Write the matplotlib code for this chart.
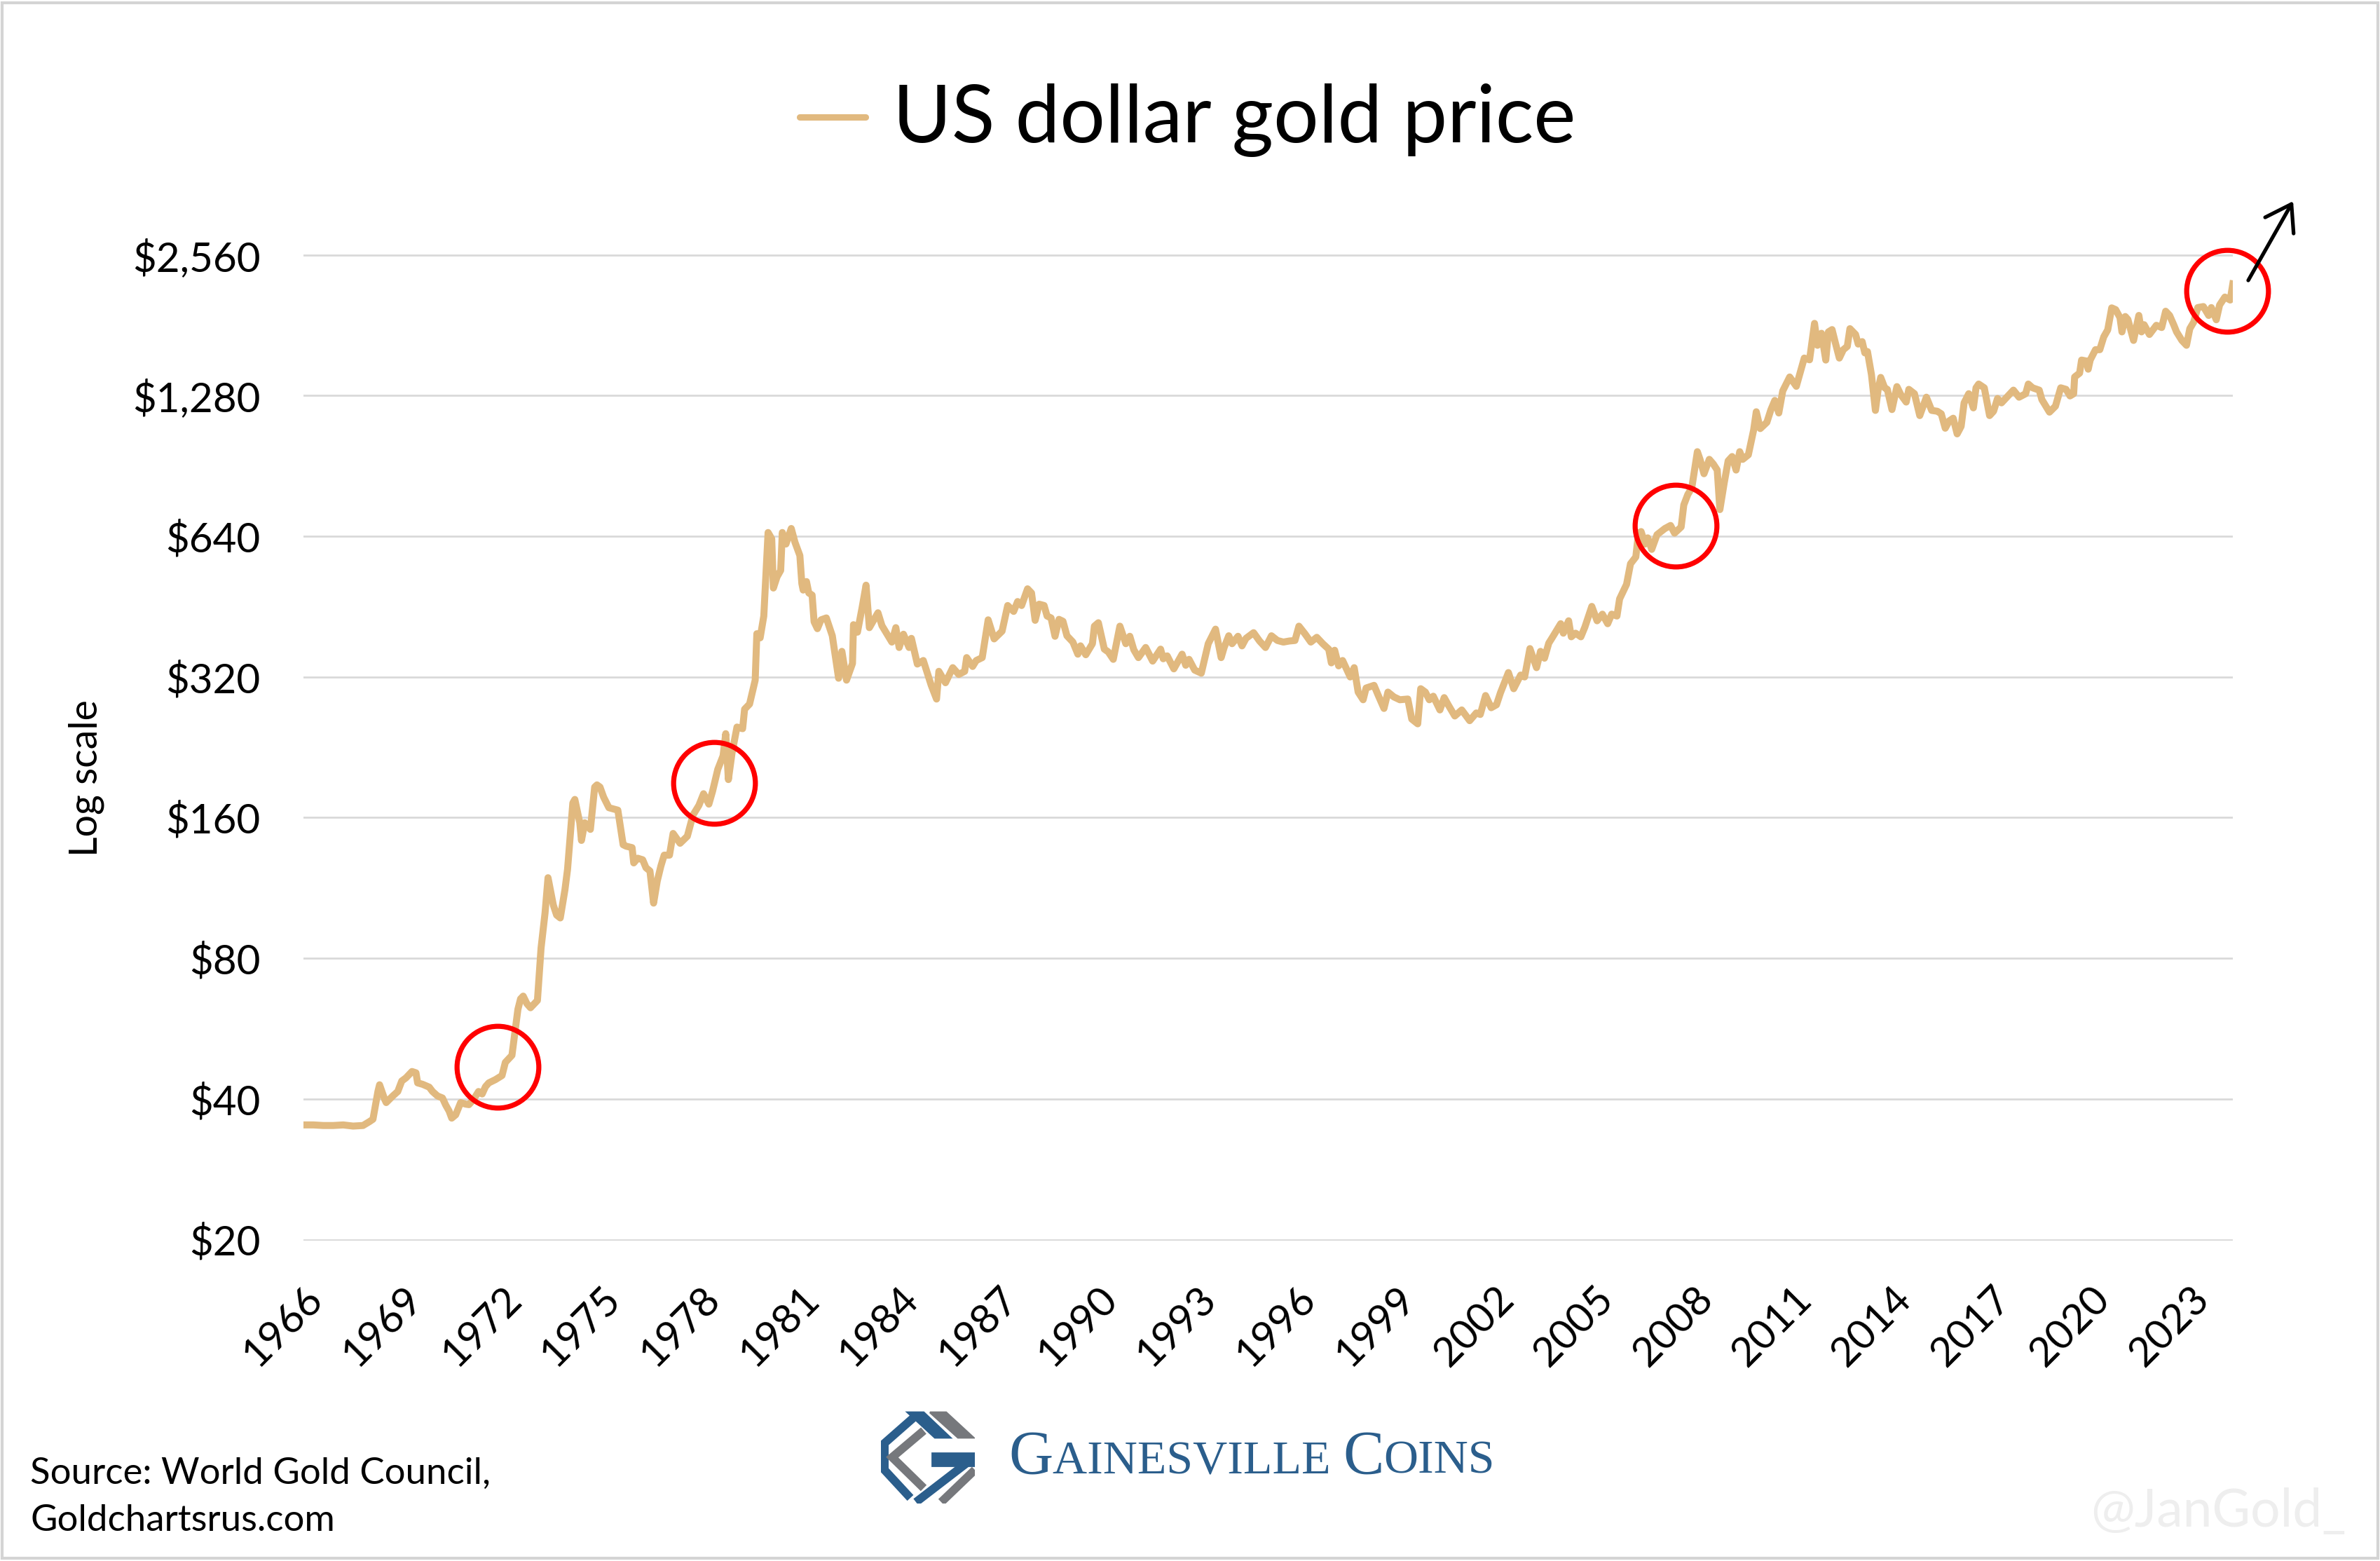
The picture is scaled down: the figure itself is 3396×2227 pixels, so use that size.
import matplotlib
matplotlib.use('Agg')
import matplotlib.pyplot as plt
from matplotlib.lines import Line2D
from matplotlib.patches import Rectangle, Polygon
from matplotlib.ticker import NullLocator

plt.rcParams['font.family'] = ['Lato', 'DejaVu Sans']

# gold price, USD per oz (decimal years)
years = [
    1966.0, 1966.3, 1966.6, 1966.9, 1967.2, 1967.5, 1967.8, 1968.0, 1968.1, 1968.25,
    1968.3, 1968.45, 1968.5, 1968.7, 1968.85, 1968.97, 1969.1, 1969.28, 1969.4, 1969.45,
    1969.6, 1969.8, 1969.9, 1970.05, 1970.2, 1970.3, 1970.4, 1970.48, 1970.6, 1970.75,
    1970.9, 1971.0, 1971.15, 1971.29, 1971.4, 1971.5, 1971.6, 1971.8, 1972.0, 1972.1,
    1972.3, 1972.48, 1972.56, 1972.64, 1972.75, 1972.86, 1973.07, 1973.18, 1973.3, 1973.39,
    1973.55, 1973.65, 1973.76, 1973.9, 1973.98, 1974.14, 1974.2, 1974.35, 1974.4, 1974.5,
    1974.67, 1974.8, 1974.87, 1974.96, 1975.07, 1975.23, 1975.5, 1975.66, 1975.75, 1975.93,
    1975.98, 1976.1, 1976.25, 1976.35, 1976.47, 1976.58, 1976.69, 1976.8, 1976.9, 1977.06,
    1977.17, 1977.38, 1977.6, 1977.77, 1977.95, 1978.09, 1978.25, 1978.36, 1978.52, 1978.68,
    1978.76, 1978.84, 1978.95, 1979.1, 1979.27, 1979.33, 1979.48, 1979.65, 1979.7, 1979.8,
    1979.91, 1980.04, 1980.15, 1980.2, 1980.31, 1980.42, 1980.47, 1980.58, 1980.74, 1980.85,
    1981.0, 1981.06, 1981.1, 1981.2, 1981.27, 1981.37, 1981.43, 1981.53, 1981.64, 1981.8,
    1981.98, 1982.17, 1982.27, 1982.41, 1982.59, 1982.62, 1982.74, 1982.88, 1983.0, 1983.1,
    1983.36, 1983.48, 1983.78, 1983.9, 1984.0, 1984.13, 1984.3, 1984.37, 1984.55, 1984.73,
    1984.97, 1985.13, 1985.2, 1985.4, 1985.62, 1985.8, 1985.98, 1986.04, 1986.22, 1986.33,
    1986.51, 1986.69, 1986.87, 1987.11, 1987.28, 1987.46, 1987.58, 1987.7, 1987.88, 1988.0,
    1988.11, 1988.23, 1988.38, 1988.47, 1988.59, 1988.71, 1988.83, 1988.95, 1989.07, 1989.25,
    1989.4, 1989.48, 1989.64, 1989.84, 1989.9, 1990.02, 1990.2, 1990.32, 1990.47, 1990.67,
    1990.85, 1990.97, 1991.09, 1991.23, 1991.45, 1991.66, 1991.9, 1991.98, 1992.1, 1992.3,
    1992.55, 1992.66, 1992.76, 1992.93, 1993.13, 1993.34, 1993.56, 1993.73, 1993.82, 1993.96,
    1994.06, 1994.24, 1994.36, 1994.48, 1994.71, 1994.89, 1995.07, 1995.25, 1995.43, 1995.61,
    1995.79, 1995.96, 1996.08, 1996.26, 1996.44, 1996.62, 1996.8, 1996.98, 1997.06, 1997.16,
    1997.28, 1997.4, 1997.63, 1997.75, 1997.87, 1998.02, 1998.11, 1998.35, 1998.47, 1998.65,
    1998.77, 1998.95, 1999.13, 1999.37, 1999.49, 1999.67, 1999.76, 1999.9, 2000.02, 2000.14,
    2000.34, 2000.47, 2000.59, 2000.79, 2001.0, 2001.24, 2001.44, 2001.56, 2001.72, 2001.89,
    2002.05, 2002.17, 2002.41, 2002.57, 2002.78, 2002.9, 2003.06, 2003.26, 2003.38, 2003.5,
    2003.63, 2003.75, 2003.99, 2004.07, 2004.23, 2004.31, 2004.44, 2004.6, 2004.72, 2004.93,
    2005.09, 2005.25, 2005.41, 2005.53, 2005.69, 2005.77, 2005.98, 2006.1, 2006.26, 2006.34,
    2006.42, 2006.54, 2006.62, 2006.74, 2006.9, 2007.14, 2007.31, 2007.43, 2007.63, 2007.71,
    2007.83, 2007.95, 2008.12, 2008.2, 2008.32, 2008.48, 2008.6, 2008.72, 2008.8, 2008.93,
    2009.05, 2009.17, 2009.29, 2009.4, 2009.49, 2009.66, 2009.82, 2009.9, 2010.02, 2010.22,
    2010.34, 2010.46, 2010.58, 2010.7, 2010.91, 2011.11, 2011.23, 2011.35, 2011.51, 2011.66,
    2011.75, 2011.87, 2012.0, 2012.08, 2012.19, 2012.29, 2012.41, 2012.53, 2012.65, 2012.73,
    2012.9, 2012.98, 2013.1, 2013.18, 2013.26, 2013.38, 2013.5, 2013.58, 2013.66, 2013.78,
    2013.86, 2014.0, 2014.15, 2014.27, 2014.43, 2014.51, 2014.68, 2014.84, 2015.04, 2015.2,
    2015.37, 2015.49, 2015.61, 2015.73, 2015.85, 2015.97, 2016.09, 2016.18, 2016.32, 2016.46,
    2016.54, 2016.62, 2016.79, 2016.95, 2017.07, 2017.19, 2017.31, 2017.47, 2017.67, 2017.84,
    2018.04, 2018.12, 2018.25, 2018.45, 2018.53, 2018.76, 2018.94, 2019.1, 2019.26, 2019.38,
    2019.49, 2019.52, 2019.67, 2019.73, 2019.87, 2019.93, 2019.99, 2020.15, 2020.28, 2020.4,
    2020.52, 2020.64, 2020.76, 2020.89, 2020.95, 2021.05, 2021.13, 2021.3, 2021.46, 2021.54,
    2021.62, 2021.78, 2021.99, 2022.15, 2022.27, 2022.39, 2022.52, 2022.6, 2022.76, 2022.9,
    2023.0, 2023.12, 2023.24, 2023.41, 2023.57, 2023.65, 2023.8, 2023.9, 2024.06, 2024.22,
    2024.3,
]
prices = [
    35.2, 35.2, 35.1, 35.1, 35.2, 35.0, 35.1, 35.8, 36.2, 41.5,
    42.9, 40.0, 39.3, 40.6, 41.5, 43.7, 44.4, 45.8, 45.5, 43.3,
    43.0, 42.4, 41.5, 40.6, 40.2, 38.8, 37.7, 36.4, 37.0, 39.3,
    39.0, 38.9, 40.0, 41.5, 41.0, 42.5, 43.3, 44.0, 44.9, 47.9,
    49.6, 62.2, 65.5, 66.4, 64.0, 62.7, 65.0, 84.2, 100, 119,
    104, 99, 97.6, 112, 124, 172, 175, 156, 143, 156,
    151, 186, 188, 186, 177, 168, 166, 140, 139, 138,
    128, 131, 130, 125, 123, 105, 117, 126, 133, 133,
    148, 141, 146, 162, 170, 180, 171, 182, 203, 217,
    242, 193, 220, 250, 248, 273, 280, 315, 396, 388,
    432, 652, 632, 496, 524, 541, 652, 616, 665, 622,
    582, 507, 491, 512, 484, 479, 420, 406, 424, 428,
    392, 318, 363, 315, 342, 414, 399, 450, 503, 408,
    439, 412, 380, 408, 370, 395, 370, 387, 341, 347,
    307, 287, 329, 311, 335, 324, 329, 352, 337, 347,
    352, 424, 386, 401, 455, 442, 464, 455, 494, 484,
    423, 458, 455, 432, 428, 391, 425, 421, 392, 380,
    358, 373, 357, 377, 411, 418, 367, 362, 349, 411,
    377, 391, 366, 352, 370, 346, 367, 350, 355, 333,
    358, 339, 349, 331, 326, 377, 405, 352, 370, 392,
    377, 391, 373, 387, 398, 382, 370, 392, 383, 380,
    382, 383, 411, 396, 380, 389, 377, 367, 343, 365,
    338, 347, 320, 335, 297, 286, 303, 307, 293, 274,
    297, 290, 286, 287, 260, 254, 302, 297, 286, 291,
    272, 289, 279, 264, 272, 258, 268, 266, 292, 275,
    279, 296, 327, 302, 323, 320, 368, 335, 363, 351,
    378, 390, 416, 397, 422, 390, 397, 390, 409, 453,
    422, 436, 416, 436, 432, 470, 505, 559, 578, 650,
    655, 616, 635, 600, 645, 665, 675, 650, 670, 747,
    786, 812, 971, 935, 871, 935, 914, 887, 730, 832,
    928, 948, 887, 971, 935, 956, 1080, 1182, 1088, 1122,
    1193, 1250, 1175, 1310, 1403, 1340, 1437, 1540, 1527, 1827,
    1640, 1740, 1525, 1752, 1772, 1660, 1540, 1605, 1631, 1780,
    1730, 1650, 1670, 1580, 1590, 1420, 1190, 1315, 1400, 1330,
    1320, 1195, 1338, 1285, 1240, 1320, 1292, 1160, 1270, 1190,
    1185, 1170, 1090, 1130, 1145, 1060, 1100, 1235, 1292, 1205,
    1330, 1355, 1330, 1160, 1185, 1262, 1235, 1270, 1315, 1270,
    1292, 1355, 1330, 1315, 1255, 1180, 1215, 1330, 1320, 1278,
    1292, 1403, 1430, 1525, 1518, 1458, 1525, 1605, 1605, 1710,
    1770, 1972, 1955, 1880, 1752, 1890, 1862, 1680, 1900, 1752,
    1815, 1730, 1810, 1790, 1940, 1900, 1810, 1752, 1680, 1640,
    1780, 1840, 1975, 1985, 1900, 1975, 1860, 2000, 2080, 2050,
    2220,
]

y_ticks = [20, 40, 80, 160, 320, 640, 1280, 2560]
y_labels = ['$20', '$40', '$80', '$160', '$320', '$640', '$1,280', '$2,560']
x_ticks = list(range(1966, 2024, 3))

# highlighted spots (red rings)
ring_years = [1971.86, 1978.42, 2007.46, 2024.13]
ring_prices = [46.8, 189.5, 675, 2146]

gold = '#E1B97F'
W, H = 3396, 2227

fig = plt.figure(figsize=(W / 200, H / 200), dpi=200)
fig.patch.set_facecolor('white')

ax = fig.add_axes([433 / W, 1 - 1770 / H, (3186 - 433) / W, (1770 - 362) / H])
ax.plot(years, prices, color=gold, lw=3.6, solid_joinstyle='round', zorder=2)
ax.set_yscale('log', base=2)
ax.set_ylim(19.9, 2575)
ax.set_xlim(1966, 2024.3)
ax.set_yticks(y_ticks)
ax.set_yticklabels(y_labels)
ax.yaxis.set_minor_locator(NullLocator())
ax.set_xticks(x_ticks)
ax.set_xticklabels([str(y) for y in x_ticks], rotation=45, ha='right', va='top',
                   rotation_mode='anchor')
ax.tick_params(axis='both', length=0, labelsize=21)
ax.tick_params(axis='y', pad=22)
ax.tick_params(axis='x', pad=20)
ax.grid(axis='y', color='#D9D9D9', lw=1.0)
ax.set_axisbelow(True)
for s in ax.spines.values():
    s.set_visible(False)

ax.plot(ring_years, ring_prices, 'o', ms=42, mfc='none', mec='#FF0000', mew=2.6,
        clip_on=False, zorder=3)

# arrow past the last ring
ax.annotate('', xy=(3272 / W, 1 - 287 / H), xytext=(3208 / W, 1 - 400 / H),
            xycoords='figure fraction', textcoords='figure fraction',
            arrowprops=dict(arrowstyle='->,head_length=0.45,head_width=0.3', lw=1.9,
                            color='black', mutation_scale=28, shrinkA=0, shrinkB=0))

# legend as title
fig.add_artist(Line2D([1141 / W, 1235 / W], [1 - 167 / H, 1 - 167 / H], color=gold,
                      lw=3.3, solid_capstyle='round'))
fig.text(1274 / W, 1 - 203 / H, 'US dollar gold price', fontsize=41, va='baseline')

fig.text(123 / W, 1 - 1110 / H, 'Log scale', rotation=90, fontsize=20,
         ha='center', va='center')

fig.text(43 / W, 1 - 2117 / H, 'Source: World Gold Council,', fontsize=19, va='baseline')
fig.text(43 / W, 1 - 2184 / H, 'Goldchartsrus.com', fontsize=19, va='baseline')

fig.text(2983 / W, 1 - 2178 / H, '@JanGold_', fontsize=27, color='#EEEEEE', va='baseline')

# logo mark
blue = '#2B5E8C'
grey = '#76787C'
lax = fig.add_axes([1257 / W, 1 - 2145 / H, 134 / W, 132 / H])
lax.set_xlim(0, 134)
lax.set_ylim(132, 0)
lax.axis('off')
lax.add_patch(Polygon([(38, 2), (61, 2), (99, 38), (77, 38)], color=blue))
lax.add_patch(Polygon([(70, 2), (93, 2), (132, 38), (110, 38)], color=grey))
lax.plot([46, 5, 5, 42], [10, 46, 84, 124], color=blue, lw=4.3, solid_joinstyle='miter',
         solid_capstyle='butt')
lax.plot([61, 16, 61], [28, 66, 110], color=grey, lw=4.3, solid_joinstyle='miter',
         solid_capstyle='butt')
lax.add_patch(Polygon([(73, 60), (134, 60), (134, 78), (73, 78)], color=blue))
lax.plot([128, 50], [70, 130], color=blue, lw=4.3, solid_capstyle='butt')
lax.plot([134, 86], [84, 130], color=grey, lw=4.3, solid_capstyle='butt')

# logo word mark, small caps built from pieces
fig.canvas.draw()
renderer = fig.canvas.get_renderer()
x = 1439
pieces = [('G', 31.5), ('AINESVILLE ', 24.5), ('C', 31.5), ('OINS', 24.5)]
for txt, size in pieces:
    t = fig.text(x / W, 1 - 2102 / H, txt, fontsize=size, color=blue,
                 family=['Liberation Serif'], va='baseline')
    bb = t.get_window_extent(renderer=renderer)
    x += bb.width

fig.add_artist(Rectangle((0.001, 0.002), 0.998, 0.996, transform=fig.transFigure,
                         fill=False, edgecolor='#D4D4D4', lw=1.5))

fig.savefig('out.png', dpi=200)
